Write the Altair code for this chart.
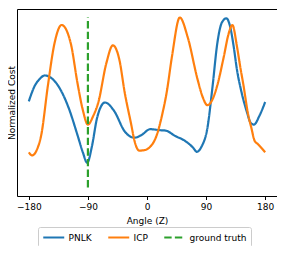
import altair as alt
import pandas as pd

# PNLK curve (angle in degrees, normalized cost)
pnlk_angle = [-180, -171, -163, -156, -146, -131, -119, -106, -98, -91, -84, -76, -64, -50, -34,
              -19, -9, 5, 20, 28, 43, 58, 70, 76, 83, 92, 100, 107, 114, 121, 127, 132, 137,
              144, 152, 158, 163, 171, 180]
pnlk_cost = [0.507, 0.598, 0.64, 0.659, 0.645, 0.57, 0.465, 0.31, 0.21, 0.145, 0.24, 0.41, 0.50,
             0.45, 0.33, 0.293, 0.307, 0.343, 0.337, 0.335, 0.303, 0.274, 0.235, 0.21, 0.24, 0.35,
             0.60, 0.846, 0.97, 0.995, 0.94, 0.83, 0.693, 0.56, 0.446, 0.38, 0.37, 0.42, 0.503]

# ICP curve
icp_angle = [-180, -175, -168, -161, -151, -141, -130, -116, -106, -98, -90, -82, -74, -62, -52,
             -42, -34, -24, -19, -12, -4, 3, 15, 23, 30, 38, 50, 62, 77, 85, 92, 100, 107, 117,
             124, 130, 137, 142, 147, 154, 159, 164, 169, 175, 180]
icp_cost = [0.207, 0.189, 0.22, 0.31, 0.598, 0.846, 0.956, 0.846, 0.617, 0.46, 0.37, 0.42, 0.503,
            0.73, 0.836, 0.75, 0.56, 0.37, 0.274, 0.217, 0.22, 0.233, 0.31, 0.427, 0.56, 0.77,
            1.0, 0.884, 0.636, 0.53, 0.484, 0.52, 0.6, 0.77, 0.90, 0.956, 0.83, 0.71, 0.6, 0.43,
            0.35, 0.274, 0.255, 0.23, 0.207]

# ground truth
gt_angle = [-90, -90]
gt_cost = [0.0, 1.0]

series_names = ["PNLK", "ICP", "ground truth"]
series_colors = ["#1f77b4", "#ff7f0e", "#2ca02c"]
series_dash = [[1, 0], [1, 0], [7.4, 3.2]]
x_ticks = [-180, -90, 0, 90, 180]

df = pd.concat([
    pd.DataFrame({"angle": pnlk_angle, "cost": pnlk_cost, "series": "PNLK"}),
    pd.DataFrame({"angle": icp_angle, "cost": icp_cost, "series": "ICP"}),
    pd.DataFrame({"angle": gt_angle, "cost": gt_cost, "series": "ground truth"}),
])

FONT = "DejaVu Sans"

color_enc = alt.Color("series:N",
                      scale=alt.Scale(domain=series_names, range=series_colors),
                      legend=alt.Legend(title=None, orient="none", direction="horizontal",
                                        legendX=21, legendY=218, gridAlign="none",
                                        symbolType="M-1,0H3", symbolSize=110,
                                        symbolStrokeWidth=2.2, labelFontSize=9,
                                        labelFont=FONT, labelColor="black",
                                        labelOffset=13.5, columnPadding=11,
                                        padding=4, strokeColor="#cccccc",
                                        fillColor="white", cornerRadius=2))
dash_enc = alt.StrokeDash("series:N",
                          scale=alt.Scale(domain=series_names, range=series_dash),
                          legend=None)

base = alt.Chart(df)

def layer(name):
    return base.transform_filter(alt.datum.series == name).mark_line(
        interpolate="monotone", strokeWidth=2.2, clip=True
    ).encode(
        x=alt.X("angle:Q",
                scale=alt.Scale(domain=[-198, 198], nice=False, zero=False),
                axis=alt.Axis(values=x_ticks, title="Angle (Z)", grid=False, domain=False,
                              tickColor="black", tickSize=3.5, labelFontSize=9,
                              labelFont=FONT, labelColor="black", titleFont=FONT,
                              titleFontSize=9, titleFontWeight="normal", titleColor="black",
                              labelPadding=3, titlePadding=5, labelFlush=False)),
        y=alt.Y("cost:Q",
                scale=alt.Scale(domain=[-0.05, 1.05], nice=False, zero=False),
                axis=alt.Axis(labels=False, ticks=False, domain=False, grid=False,
                              title="Normalized Cost", titleFont=FONT, titleFontSize=9,
                              titleFontWeight="normal", titleColor="black",
                              titleX=-5.5, titleY=93.5, titleAngle=-90,
                              titleAlign="center", titleBaseline="middle")),
        color=color_enc,
        strokeDash=dash_enc,
    )

chart = alt.layer(layer("PNLK"), layer("ICP"), layer("ground truth")).properties(
    width=260, height=187,
    autosize=alt.AutoSizeParams(type="none"),
    padding={"left": 9, "top": 1, "right": 0, "bottom": 50},
).configure_view(stroke="black", strokeWidth=1)

chart.save("out.html", embed_options={"renderer": "svg", "actions": False})
